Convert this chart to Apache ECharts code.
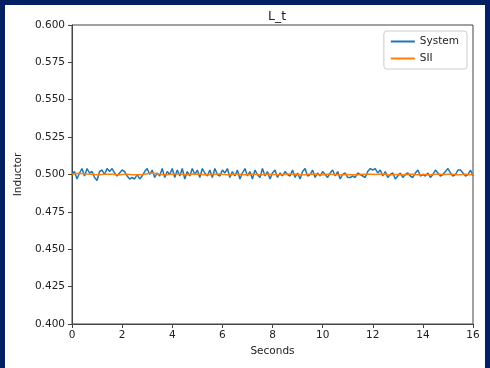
<!DOCTYPE html>
<html>
<head>
<meta charset="utf-8">
<script src="https://cdn.jsdelivr.net/npm/echarts@6/dist/echarts.min.js"></script>
<style>
  html, body { margin: 0; padding: 0; background: #022062; }
  #chart { position: absolute; left: 5px; top: 5px; width: 480px; height: 363px; background: #fff; }
</style>
</head>
<body>
<div id="chart"></div>
<script>
// time axis: 0 .. 16 s, step 0.1
const seconds = []
for (let i = 0; i <= 160; i++) seconds.push(+(i * 0.1).toFixed(1))

// System inductor values
const systemValues = [
  0.500, 0.502, 0.497, 0.501, 0.504, 0.499, 0.504, 0.501, 0.502, 0.498, 0.496,
  0.502, 0.503, 0.500, 0.504, 0.502, 0.504, 0.501, 0.499, 0.501, 0.503,
  0.502, 0.499, 0.497, 0.498, 0.497, 0.500, 0.497, 0.499, 0.502, 0.504,
  0.500, 0.503, 0.498, 0.501, 0.499, 0.504, 0.498, 0.502, 0.500, 0.504,
  0.498, 0.503, 0.499, 0.504, 0.497, 0.502, 0.499, 0.504, 0.500, 0.503,
  0.498, 0.504, 0.501, 0.499, 0.503, 0.498, 0.504, 0.500, 0.499, 0.503,
  0.501, 0.504, 0.498, 0.502, 0.499, 0.503, 0.497, 0.501, 0.504, 0.499,
  0.502, 0.497, 0.503, 0.500, 0.498, 0.504, 0.499, 0.502, 0.497, 0.501,
  0.503, 0.498, 0.501, 0.499, 0.502, 0.500, 0.499, 0.503, 0.498, 0.501,
  0.497, 0.502, 0.504, 0.499, 0.500, 0.503, 0.498, 0.501, 0.499, 0.502,
  0.500, 0.498, 0.501, 0.503, 0.499, 0.502, 0.497, 0.500, 0.501, 0.498,
  0.498, 0.499, 0.498, 0.501, 0.500, 0.499, 0.498, 0.502, 0.504, 0.503,
  0.504, 0.501, 0.503, 0.499, 0.502, 0.498, 0.500, 0.501, 0.497, 0.499,
  0.501, 0.498, 0.500, 0.501, 0.499, 0.498, 0.501, 0.503, 0.499, 0.500,
  0.499, 0.501, 0.498, 0.500, 0.503, 0.501, 0.499, 0.500, 0.502, 0.504,
  0.501, 0.499, 0.500, 0.503, 0.503, 0.501, 0.499, 0.500, 0.503, 0.499
]

// SII estimate, a smooth curve near 0.5
const siiValues = [
  0.5000, 0.5003, 0.5006, 0.5008, 0.5007, 0.5005, 0.5003, 0.5002, 0.5001, 0.5000, 0.4999,
  0.4999, 0.5000, 0.5001, 0.5002, 0.5002, 0.5001, 0.5000, 0.4999, 0.4999, 0.5000,
  0.5001, 0.5001, 0.5000, 0.4999, 0.4998, 0.4998, 0.4999, 0.5000, 0.5002, 0.5005,
  0.5008, 0.5010, 0.5008, 0.5005, 0.5002, 0.5000, 0.4999, 0.4999, 0.5000, 0.5002,
  0.5004, 0.5005, 0.5004, 0.5002, 0.5000, 0.4999, 0.5000, 0.5001, 0.5002, 0.5002,
  0.5001, 0.5000, 0.4999, 0.4998, 0.4999, 0.5000, 0.5002, 0.5004, 0.5003, 0.5001,
  0.5000, 0.4999, 0.4999, 0.5000, 0.5001, 0.5002, 0.5001, 0.5000, 0.4999, 0.4999,
  0.5000, 0.5001, 0.5001, 0.5000, 0.4999, 0.4999, 0.5000, 0.5001, 0.5001, 0.5000,
  0.5000, 0.4999, 0.4999, 0.5000, 0.5001, 0.5002, 0.5003, 0.5002, 0.5001, 0.5000,
  0.4999, 0.4998, 0.4999, 0.5000, 0.5001, 0.5002, 0.5001, 0.5000, 0.4999, 0.4999,
  0.5000, 0.5001, 0.5001, 0.5000, 0.4999, 0.4998, 0.4998, 0.4999, 0.5000, 0.5000,
  0.4999, 0.4998, 0.4998, 0.4999, 0.5000, 0.5001, 0.5002, 0.5003, 0.5002, 0.5001,
  0.5000, 0.5001, 0.5002, 0.5003, 0.5002, 0.5000, 0.4999, 0.4999, 0.5000, 0.5000,
  0.4999, 0.4998, 0.4999, 0.5000, 0.5001, 0.5001, 0.5000, 0.4999, 0.4999, 0.5000,
  0.5000, 0.4999, 0.4999, 0.5000, 0.5001, 0.5002, 0.5001, 0.5000, 0.5000, 0.5001,
  0.5002, 0.5001, 0.5000, 0.4999, 0.4999, 0.5000, 0.5001, 0.5000, 0.4999, 0.4999
]

const font = 'DejaVu Sans'

const chart = echarts.init(document.getElementById('chart'))
chart.setOption({
  animation: false,
  textStyle: { fontFamily: font },
  title: {
    text: 'L_t',
    left: 267,
    top: 0,
    textAlign: 'center',
    textStyle: { fontFamily: font, fontSize: 12.5, fontWeight: 'normal', color: '#222' }
  },
  legend: {
    orient: 'vertical',
    right: 18,
    top: 26,
    padding: [5, 8, 5, 7],
    itemGap: 6,
    itemWidth: 24,
    itemHeight: 2,
    borderColor: '#ccc',
    borderWidth: 1,
    borderRadius: 3,
    textStyle: { fontFamily: font, fontSize: 10.5, color: '#222' },
    data: [
      { name: 'System', icon: 'rect' },
      { name: 'SII', icon: 'rect' }
    ]
  },
  grid: {
    left: 67, right: 12, top: 20, bottom: 44,
    show: true, borderColor: '#444', borderWidth: 1
  },
  xAxis: {
    type: 'value',
    min: 0, max: 16, interval: 2,
    name: 'Seconds',
    nameLocation: 'middle',
    nameGap: 21,
    nameTextStyle: { fontFamily: font, fontSize: 10.5, color: '#222' },
    axisLine: { lineStyle: { color: '#444' } },
    axisTick: { length: 4, lineStyle: { color: '#444' } },
    axisLabel: { margin: 6, fontFamily: font, fontSize: 10.5, color: '#222' },
    splitLine: { show: false }
  },
  yAxis: {
    type: 'value',
    min: 0.4, max: 0.6, interval: 0.025,
    name: 'Inductor',
    nameLocation: 'middle',
    nameGap: 42,
    nameTextStyle: { fontFamily: font, fontSize: 10.5, color: '#222' },
    axisLine: { show: true, lineStyle: { color: '#444' } },
    axisTick: { show: true, length: 4, lineStyle: { color: '#444' } },
    axisLabel: {
      margin: 7, fontFamily: font, fontSize: 10.5, color: '#222',
      formatter: v => v.toFixed(3)
    },
    splitLine: { show: false }
  },
  series: [
    {
      name: 'System',
      type: 'line',
      showSymbol: false,
      color: '#1f77b4',
      lineStyle: { width: 1.5, color: '#1f77b4' },
      data: seconds.map((t, i) => [t, systemValues[i]])
    },
    {
      name: 'SII',
      type: 'line',
      showSymbol: false,
      color: '#ff7f0e',
      lineStyle: { width: 1.5, color: '#ff7f0e' },
      data: seconds.map((t, i) => [t, siiValues[i]])
    }
  ]
})
</script>
</body>
</html>
